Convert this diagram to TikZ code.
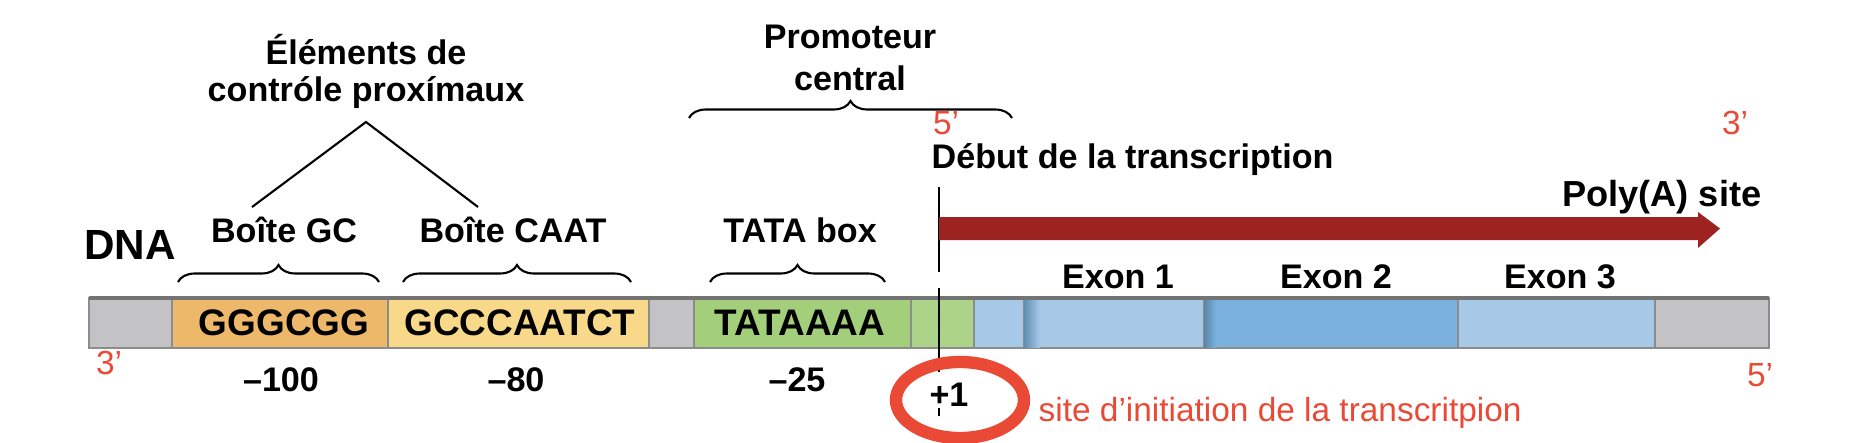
\documentclass[tikz,border=0pt]{standalone}
\usepackage{fontspec}
\setmainfont{Liberation Sans}
\usetikzlibrary{decorations.pathreplacing}
\definecolor{bargray}{HTML}{C3C3C6}
\definecolor{gcorange}{HTML}{EDB86A}
\definecolor{caatyellow}{HTML}{F8D98A}
\definecolor{tatagreen}{HTML}{A3CF7B}
\definecolor{lblue}{HTML}{A6C9E8}
\definecolor{mblue}{HTML}{7AB2DD}
\definecolor{arrowred}{HTML}{9C2320}
\definecolor{annred}{HTML}{EA4A35}
\begin{document}
\begin{tikzpicture}[x=0.01cm,y=-0.01cm,
  lbl/.style={font=\fontsize{9.7pt}{11pt}\selectfont\bfseries,inner sep=0pt},
  seq/.style={font=\fontsize{10.5pt}{12pt}\selectfont\bfseries,inner sep=0pt},
  prime/.style={font=\fontsize{9.5pt}{11pt}\selectfont,text=annred,inner sep=0pt},
  blk/.style={draw=black!45,line width=0.4pt},
  brc/.style={decorate,decoration={brace,amplitude=0.17cm},line width=0.6pt}]
\useasboundingbox (0,0) rectangle (1852,442);
% DNA bar blocks
\fill[blk,fill=bargray] (89,298) rectangle (172,348);
\fill[blk,fill=gcorange] (172,298) rectangle (388,348);
\fill[blk,fill=caatyellow] (388,298) rectangle (649,348);
\fill[blk,fill=bargray] (649,298) rectangle (694,348);
\fill[blk,fill=tatagreen] (694,298) rectangle (911,348);
\fill[blk,fill=tatagreen!90!white] (911,298) rectangle (974,348);
\fill[blk,fill=lblue] (974,298) rectangle (1024,348);
\fill[blk,fill=lblue] (1024,298) rectangle (1204,348);
\shade[left color=mblue!80!black,right color=lblue] (1024,299) rectangle (1040,347);
\fill[blk,fill=mblue] (1204,298) rectangle (1458,348);
\shade[left color=mblue!75!black,right color=mblue] (1204,299) rectangle (1216,347);
\fill[blk,fill=lblue] (1458,298) rectangle (1655,348);
\fill[blk,fill=bargray] (1655,298) rectangle (1769,348);
\draw[black!55,line width=1pt] (89,298) -- (1769,298);
% sequences
\node[seq] (s1) at (284,323) {GGGCGG};
\node[seq] (s2) at (520,323) {GCCCAATCT};
\node[seq] (s3) at (800,323) {TATAAAA};
% labels
\node[font=\fontsize{12pt}{14pt}\selectfont\bfseries,inner sep=0pt] (dna) at (130,245) {DNA};
\node[lbl] (gc) at (284,230) {Boîte GC};
\node[lbl] (caat) at (513,230) {Boîte CAAT};
\node[lbl] (tata) at (800,230) {TATA box};
\draw[brc] (178,282) -- (379,282);
\draw[brc] (403,282) -- (631,282);
\draw[brc] (710,282) -- (885,282);
\node[lbl] (el1) at (366,50) {Éléments de};
\node[lbl] (el2) at (366,93) {contróle proxímaux};
\coordinate (apex) at (366,122);
\coordinate (lgc) at (252,207);
\coordinate (lcaat) at (478,207);
\draw[line width=0.6pt] (lgc) -- (apex) -- (lcaat);
\node[lbl] (pr1) at (850,37) {Promoteur};
\node[lbl] (pr2) at (850,78) {central};
\draw[brc] (689,118) -- (1012,118);
% numbers
\node[lbl] (n100) at (281,380) {–100};
\node[lbl] (n80) at (516,380) {–80};
\node[lbl] (n25) at (797,380) {–25};
\node[lbl] (p1) at (949,395) {+1};
% start line
\coordinate (st) at (939,187);
\coordinate (sb) at (939,372);
\draw[line width=0.7pt] (st) -- (939,272);
\draw[line width=0.7pt] (939,288) -- (sb);
\draw[line width=0.5pt] (939,408) -- (939,416);
% arrow
\fill[arrowred] (939,217) -- (1698,217) -- (1698,212) -- (1720,228.5) -- (1698,248) -- (1698,240) -- (939,240) -- cycle;
\node[lbl,anchor=west] (deb) at (931,160) {Début de la transcription};
\node[lbl,anchor=east,font=\fontsize{10.3pt}{12pt}\selectfont\bfseries] (poly) at (1762,197) {Poly(A) site};
\node[lbl] (e1) at (1118,277) {Exon 1};
\node[lbl] (e2) at (1336,277) {Exon 2};
\node[lbl] (e3) at (1560,277) {Exon 3};
% primes
\node[prime] (t5) at (946,123) {5’};
\node[prime] (t3) at (1735,123) {3’};
\node[prime] (b3) at (109,363) {3’};
\node[prime] (b5) at (1760,375) {5’};
% annotation
\draw[annred,line width=3.5pt] (960,400) ellipse [x radius=64, y radius=38];
\node[prime,anchor=west] (site) at (1038,413) {site d’initiation de la transcritpion};
\end{tikzpicture}
\end{document}
